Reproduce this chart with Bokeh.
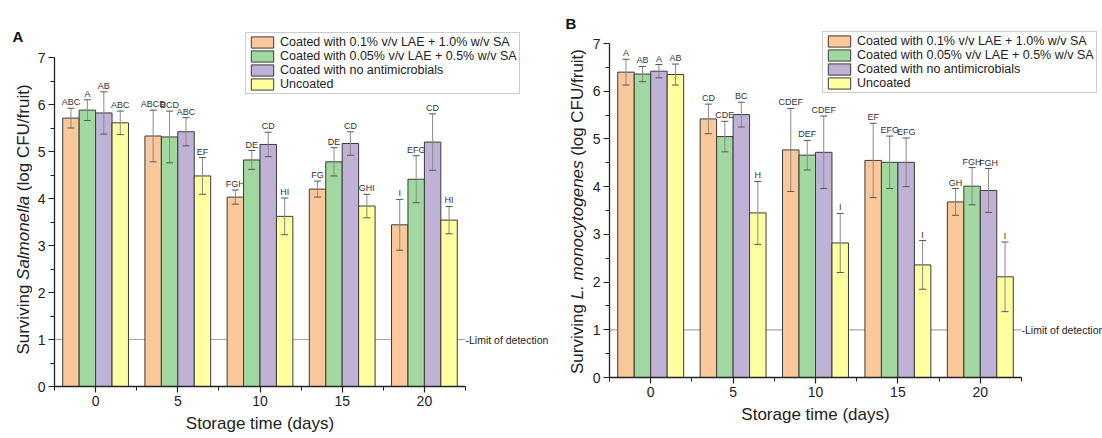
import math
from bokeh.plotting import figure
from bokeh.models import (ColumnDataSource, Range1d, FixedTicker, SingleIntervalTicker,
                          Whisker, TeeHead, Legend, LegendItem, Label, Title)
from bokeh.layouts import row
from bokeh.embed import file_html
from bokeh.resources import INLINE
from bokeh.core.properties import value

# ---------------- data ----------------
days = [0, 5, 10, 15, 20]
series_names = [
    "Coated with 0.1% v/v LAE + 1.0% w/v SA",
    "Coated with 0.05% v/v LAE + 0.5% w/v SA",
    "Coated with no antimicrobials",
    "Uncoated",
]
colors = ["#FAC89B", "#A0D8A0", "#C0B2D6", "#FFFFA0"]
limit_of_detection = 1.0
y_axis_max = 7

# Panel A: Salmonella
sal_lae10 = [5.71, 5.33, 4.03, 4.20, 3.44]
sal_lae10_err = [0.21, 0.55, 0.15, 0.17, 0.54]
sal_lae10_let = ["ABC", "ABCD", "FGH", "FG", "I"]
sal_lae05 = [5.88, 5.31, 4.82, 4.78, 4.41]
sal_lae05_err = [0.22, 0.55, 0.20, 0.30, 0.50]
sal_lae05_let = ["A", "BCD", "DE", "DE", "EFG"]
sal_noam = [5.82, 5.42, 5.15, 5.17, 5.20]
sal_noam_err = [0.45, 0.30, 0.26, 0.25, 0.60]
sal_noam_let = ["AB", "ABC", "CD", "CD", "CD"]
sal_unc = [5.61, 4.48, 3.62, 3.84, 3.54]
sal_unc_err = [0.25, 0.39, 0.39, 0.25, 0.29]
sal_unc_let = ["ABC", "EF", "HI", "GHI", "HI"]

# Panel B: L. monocytogenes
lm_lae10 = [6.40, 5.42, 4.77, 4.55, 3.68]
lm_lae10_err = [0.27, 0.31, 0.87, 0.78, 0.28]
lm_lae10_let = ["A", "CD", "CDEF", "EF", "GH"]
lm_lae05 = [6.36, 5.05, 4.66, 4.51, 4.01]
lm_lae05_err = [0.16, 0.32, 0.31, 0.55, 0.39]
lm_lae05_let = ["AB", "CDE", "DEF", "EFG", "FGH"]
lm_noam = [6.42, 5.51, 4.72, 4.51, 3.92]
lm_noam_err = [0.14, 0.26, 0.76, 0.51, 0.46]
lm_noam_let = ["A", "BC", "CDEF", "EFG", "FGH"]
lm_unc = [6.35, 3.45, 2.82, 2.36, 2.11]
lm_unc_err = [0.22, 0.66, 0.62, 0.51, 0.73]
lm_unc_let = ["AB", "H", "I", "I", "I"]

FONT = "Liberation Sans"
AX_COLOR = "#222222"
TXT = "#222222"
H = 438
BB = 52          # common bottom border of every plot in the row
XTITLE = "Storage time (days)"
XTITLE_EM = 8.725  # approx. advance width of XTITLE in em
SPACE_EM = 0.278


def title_strip(width, letter, letter_x, letter_base_from_top, parts, ems, center_from_top, label_x):
    """Narrow figure carrying the rotated y title (with italic part) and the panel letter."""
    s = figure(width=width, height=H, output_backend="svg", toolbar_location=None,
               x_range=Range1d(0, width), y_range=Range1d(BB, H),
               x_axis_type=None, y_axis_type=None,
               min_border_left=0, min_border_right=0, min_border_top=0, min_border_bottom=BB)
    s.outline_line_color = None
    s.background_fill_color = "white"
    s.border_fill_color = "white"
    fs = 17
    total = (sum(ems) + SPACE_EM * (len(ems) - 1)) * fs
    y = (H - center_from_top) - total / 2
    for (txt, style), em in zip(parts, ems):
        s.add_layout(Label(x=label_x, y=y, text=txt, angle=math.pi / 2,
                           text_align="left", text_baseline="middle",
                           text_font=FONT, text_font_size=f"{fs}px", text_font_style=style,
                           text_color=TXT))
        y += (em + SPACE_EM) * fs
    s.add_layout(Label(x=letter_x, y=H - letter_base_from_top, text=letter,
                       text_align="left", text_baseline="alphabetic", text_font=FONT,
                       text_font_size="15px", text_font_style="bold", text_color="#111111"))
    return s


def make_panel(means, errs, lets, width, height, bl, ppu_x, ppu_y, legend_loc):
    x0, x_axis_end = days[0] - 2.5, days[-1] + 2.5
    frame_w = width - bl
    frame_h = height - BB
    p = figure(width=width, height=height, output_backend="svg", toolbar_location=None,
               x_range=Range1d(x0, x0 + frame_w / ppu_x), y_range=Range1d(0, frame_h / ppu_y),
               min_border_left=bl, min_border_right=0, min_border_top=0, min_border_bottom=BB)
    p.outline_line_color = None
    p.grid.visible = False
    p.background_fill_color = "white"
    p.border_fill_color = "white"

    # limit of detection line across the axis extent (under the bars)
    lod_src = ColumnDataSource(dict(x=[x0, x_axis_end], y=[limit_of_detection] * 2))
    p.line(x="x", y="y", source=lod_src, line_color="#a8a8a8", line_width=1.2)

    offsets = [-1.5, -0.5, 0.5, 1.5]
    items = []
    for i in range(4):
        xs = [d + offsets[i] for d in days]
        up = [m + e for m, e in zip(means[i], errs[i])]
        lo = [m - e for m, e in zip(means[i], errs[i])]
        src = ColumnDataSource(dict(x=xs, top=means[i], upper=up, lower=lo, let=lets[i]))
        r = p.vbar(x="x", top="top", bottom=0, width=1.0, source=src,
                   fill_color=colors[i], line_color="#3a3a3a", line_width=1)
        items.append(LegendItem(label=series_names[i], renderers=[r]))
        w = Whisker(source=src, base="x", upper="upper", lower="lower",
                    line_color="#8a8a8a", line_width=1,
                    upper_head=TeeHead(size=7, line_color="#555555", line_width=1),
                    lower_head=TeeHead(size=7, line_color="#555555", line_width=1))
        w.level = "annotation"
        p.add_layout(w)
        p.text(x="x", y="upper", text="let", source=src, text_align="center",
               text_baseline="bottom", y_offset=-1, text_font_size="9px",
               text_font=value(FONT), text_color="#333333")

    legend = Legend(items=items, location=legend_loc, label_text_font=FONT,
                    label_text_font_size="12.5px", label_text_color=TXT,
                    glyph_width=28, glyph_height=14, label_height=14, label_standoff=4,
                    spacing=0, padding=2, margin=0,
                    border_line_color="#9a9a9a", border_line_width=1,
                    background_fill_color="white", background_fill_alpha=1.0)
    p.add_layout(legend)

    p.xaxis.ticker = FixedTicker(ticks=days, minor_ticks=[d - 2.5 for d in days] + [x_axis_end])
    p.yaxis.ticker = SingleIntervalTicker(interval=1, num_minor_ticks=2)
    p.xaxis.bounds = (x0, x_axis_end)
    p.yaxis.bounds = (0, y_axis_max)
    for ax in (p.xaxis, p.yaxis):
        ax.axis_line_color = AX_COLOR
        ax.axis_line_width = 1.3
        ax.major_tick_line_color = AX_COLOR
        ax.minor_tick_line_color = AX_COLOR
        ax.major_tick_line_width = 1.2
        ax.major_tick_in = 0
        ax.minor_tick_in = 0
        ax.major_tick_out = 6
        ax.minor_tick_out = 4
        ax.major_label_text_font = FONT
        ax.major_label_text_font_size = "14px"
        ax.major_label_text_color = TXT
        ax.major_label_standoff = 3

    # x title centred on the drawn axis (not on the wider frame)
    fs = 17
    center_px = ((x0 + x_axis_end) / 2 - x0) * ppu_x
    p.add_layout(Title(text=XTITLE, align="left", offset=center_px - XTITLE_EM * fs / 2,
                       text_font=FONT, text_font_size=f"{fs}px", text_font_style="normal",
                       text_color=TXT, standoff=6), "below")

    p.add_layout(Label(x=x_axis_end, y=limit_of_detection, text="-Limit of detection",
                       text_align="left", text_baseline="middle", text_font=FONT,
                       text_font_size="10.5px", text_color=TXT))
    return p


stripA = title_strip(32, "A", 12, 36,
                     [("Surviving", "normal"), ("Salmonella", "italic"), ("(log CFU/fruit)", "normal")],
                     [4.112, 4.946, 6.278], 219, 23)
pA = make_panel([sal_lae10, sal_lae05, sal_noam, sal_unc],
                [sal_lae10_err, sal_lae05_err, sal_noam_err, sal_unc_err],
                [sal_lae10_let, sal_lae05_let, sal_noam_let, sal_unc_let],
                width=524, height=H, bl=22, ppu_x=16.44, ppu_y=47.0, legend_loc=(191, 292))

stripB = title_strip(32, "B", 9, 23,
                     [("Surviving", "normal"), ("L. monocytogenes", "italic"), ("(log CFU/fruit)", "normal")],
                     [4.112, 8.171, 6.278], 211, 21)
pB = make_panel([lm_lae10, lm_lae05, lm_noam, lm_unc],
                [lm_lae10_err, lm_lae05_err, lm_noam_err, lm_unc_err],
                [lm_lae10_let, lm_lae05_let, lm_noam_let, lm_unc_let],
                width=514, height=H - 9, bl=21, ppu_x=16.48, ppu_y=47.71, legend_loc=(213, 284))

layout = row(stripA, pA, stripB, pB)
open("out.html", "w").write(file_html(layout, INLINE))
